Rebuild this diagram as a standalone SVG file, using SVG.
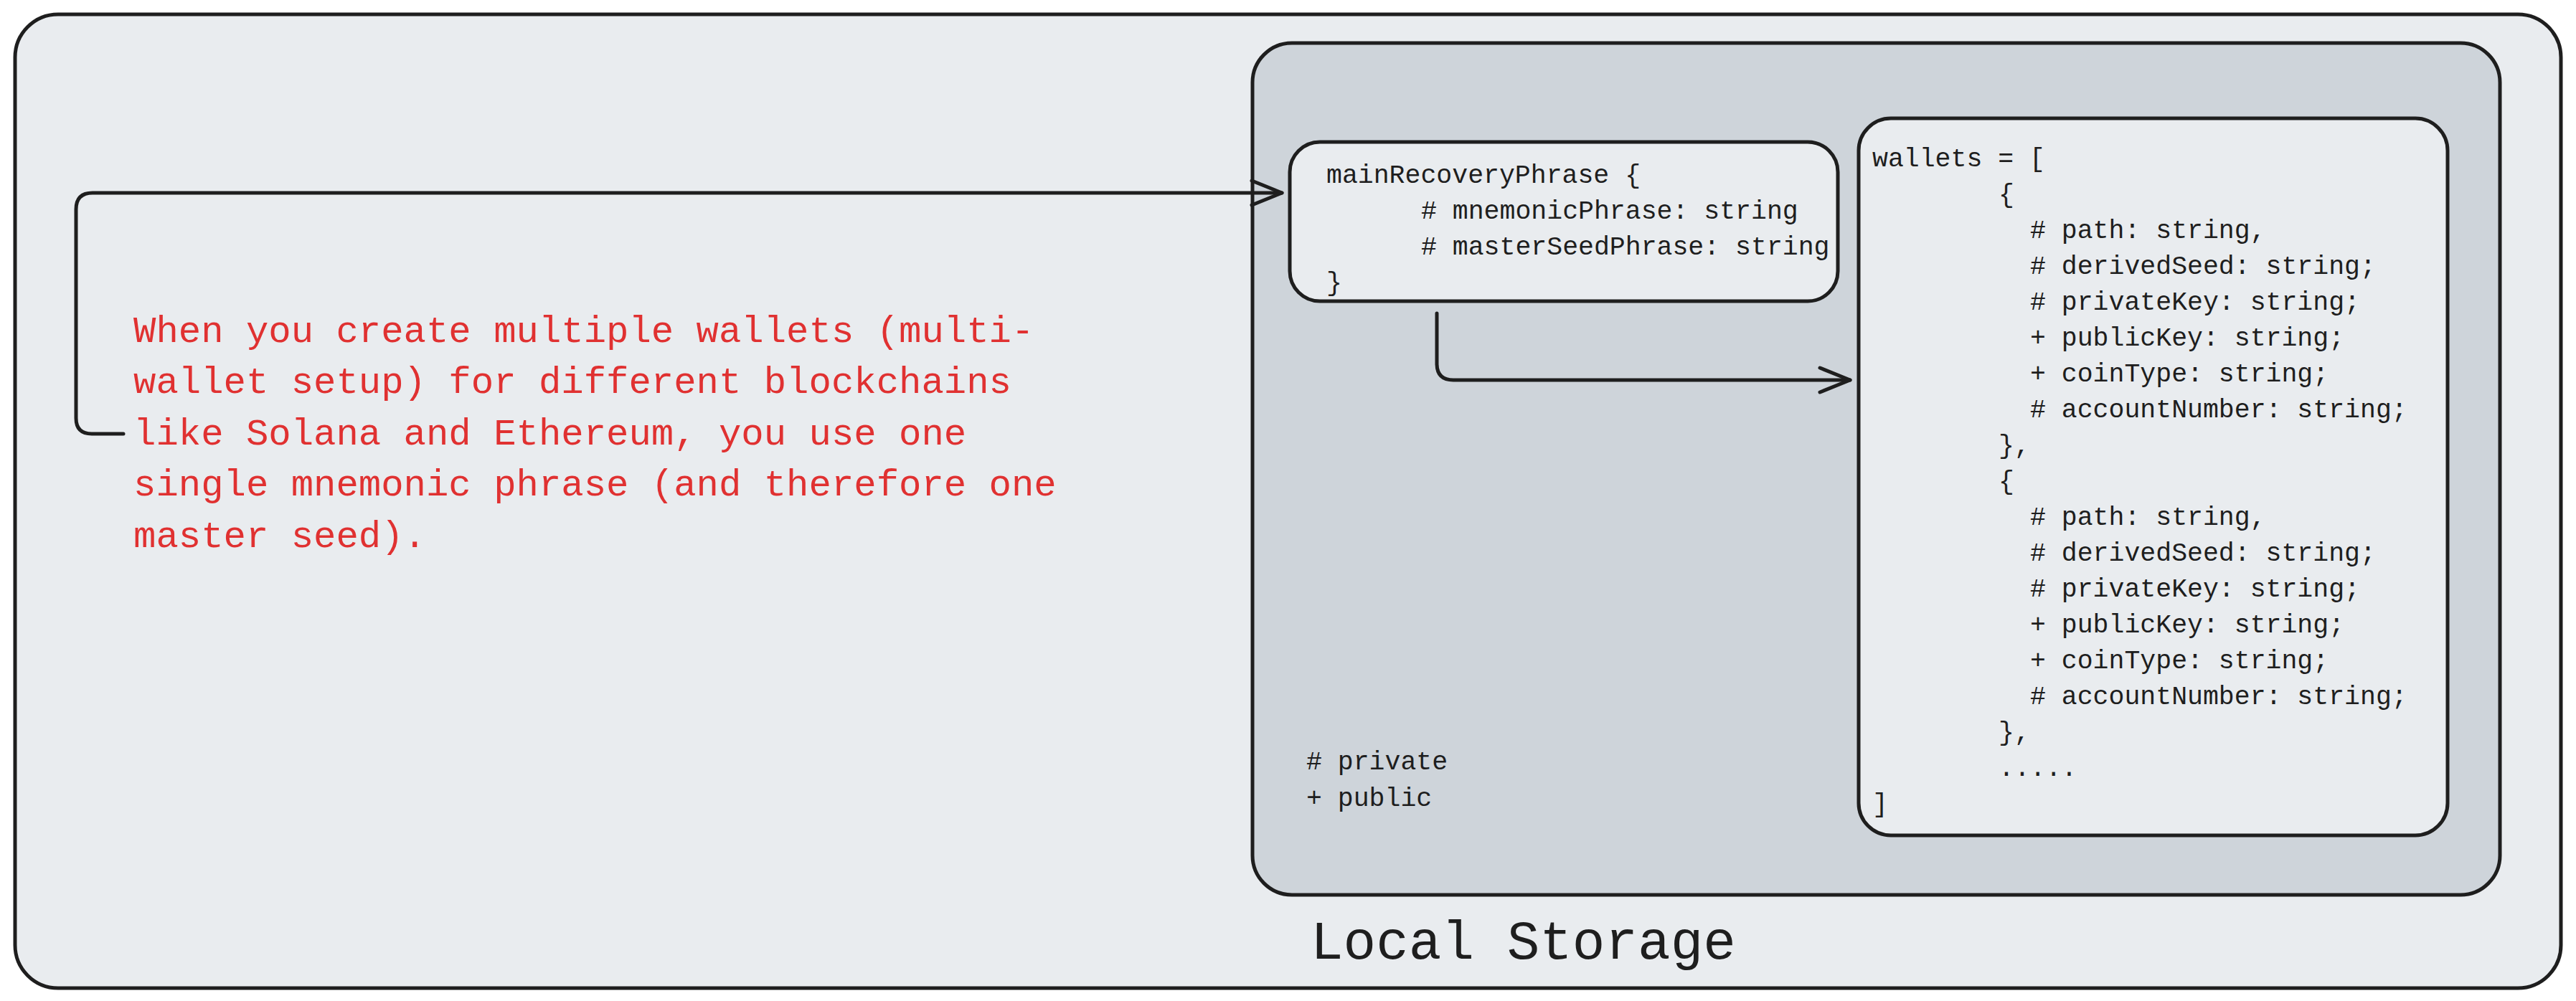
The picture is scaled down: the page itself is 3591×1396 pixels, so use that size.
<svg xmlns="http://www.w3.org/2000/svg" width="3591" height="1396" viewBox="0 0 3591 1396">
<defs>
<style>
.box{stroke:#1e1e1e;stroke-width:5;stroke-linejoin:round}
.light{fill:#e9ecef}
.dark{fill:#ced4da}
.code{font-family:"Liberation Mono","DejaVu Sans Mono",monospace;font-size:36.5px;fill:#1e1e1e}
.note{font-family:"Liberation Mono","DejaVu Sans Mono",monospace;font-size:52.3px;fill:#e03131}
.title{font-family:"Liberation Mono","DejaVu Sans Mono",monospace;font-size:76px;fill:#1e1e1e}
.conn{fill:none;stroke:#1e1e1e;stroke-width:5;stroke-linecap:round;stroke-linejoin:round}
</style>
<marker id="arrow" viewBox="0 0 50 40" refX="46" refY="20" markerWidth="50" markerHeight="40" markerUnits="userSpaceOnUse" orient="auto">
<path d="M4 3 L46 20 L4 37" fill="none" stroke="#1e1e1e" stroke-width="5" stroke-linecap="round" stroke-linejoin="round"/>
</marker>
</defs>
<rect width="3591" height="1396" fill="#ffffff"/>
<g id="outer">
<rect class="box light" x="21" y="20" width="3549" height="1358" rx="60" ry="60"/>
</g>
<g id="local-storage">
<rect class="box dark" x="1746" y="60" width="1739" height="1188" rx="55" ry="55"/>
<text class="title" x="1827" y="1337">Local Storage</text>
<text class="code" x="1821" y="1073">
<tspan x="1821" y="1073"># private</tspan>
<tspan x="1821" y="1124">+ public</tspan>
</text>
</g>
<g id="main-recovery-phrase">
<rect class="box light" x="1798" y="198" width="764" height="222" rx="42" ry="42"/>
<text class="code">
<tspan x="1849" y="255">mainRecoveryPhrase {</tspan>
<tspan x="1981" y="305"># mnemonicPhrase: string</tspan>
<tspan x="1981" y="355"># masterSeedPhrase: string</tspan>
<tspan x="1849" y="405">}</tspan>
</text>
</g>
<g id="wallets">
<rect class="box light" x="2591" y="165" width="821" height="1000" rx="45" ry="45"/>
<text class="code">
<tspan x="2610" y="232">wallets = [</tspan>
<tspan x="2786" y="282">{</tspan>
<tspan x="2830" y="332"># path: string,</tspan>
<tspan x="2830" y="382"># derivedSeed: string;</tspan>
<tspan x="2830" y="432"># privateKey: string;</tspan>
<tspan x="2830" y="482">+ publicKey: string;</tspan>
<tspan x="2830" y="532">+ coinType: string;</tspan>
<tspan x="2830" y="582"># accountNumber: string;</tspan>
<tspan x="2786" y="632">},</tspan>
<tspan x="2786" y="682">{</tspan>
<tspan x="2830" y="732"># path: string,</tspan>
<tspan x="2830" y="782"># derivedSeed: string;</tspan>
<tspan x="2830" y="832"># privateKey: string;</tspan>
<tspan x="2830" y="882">+ publicKey: string;</tspan>
<tspan x="2830" y="932">+ coinType: string;</tspan>
<tspan x="2830" y="982"># accountNumber: string;</tspan>
<tspan x="2786" y="1032">},</tspan>
<tspan x="2786" y="1082">.....</tspan>
<tspan x="2610" y="1132">]</tspan>
</text>
</g>
<g id="note">
<text class="note">
<tspan x="186" y="477">When you create multiple wallets (multi-</tspan>
<tspan x="186" y="548">wallet setup) for different blockchains</tspan>
<tspan x="186" y="620">like Solana and Ethereum, you use one</tspan>
<tspan x="186" y="691">single mnemonic phrase (and therefore one</tspan>
<tspan x="186" y="763">master seed).</tspan>
</text>
</g>
<g id="connectors">
<path class="conn" marker-end="url(#arrow)" d="M172 605 L128 605 Q106 605 106 583 L106 292 Q106 269 129 269 L1787 269"/>
<path class="conn" marker-end="url(#arrow)" d="M2003 437 L2003 507 Q2003 530 2026 530 L2579 530"/>
</g>
</svg>
